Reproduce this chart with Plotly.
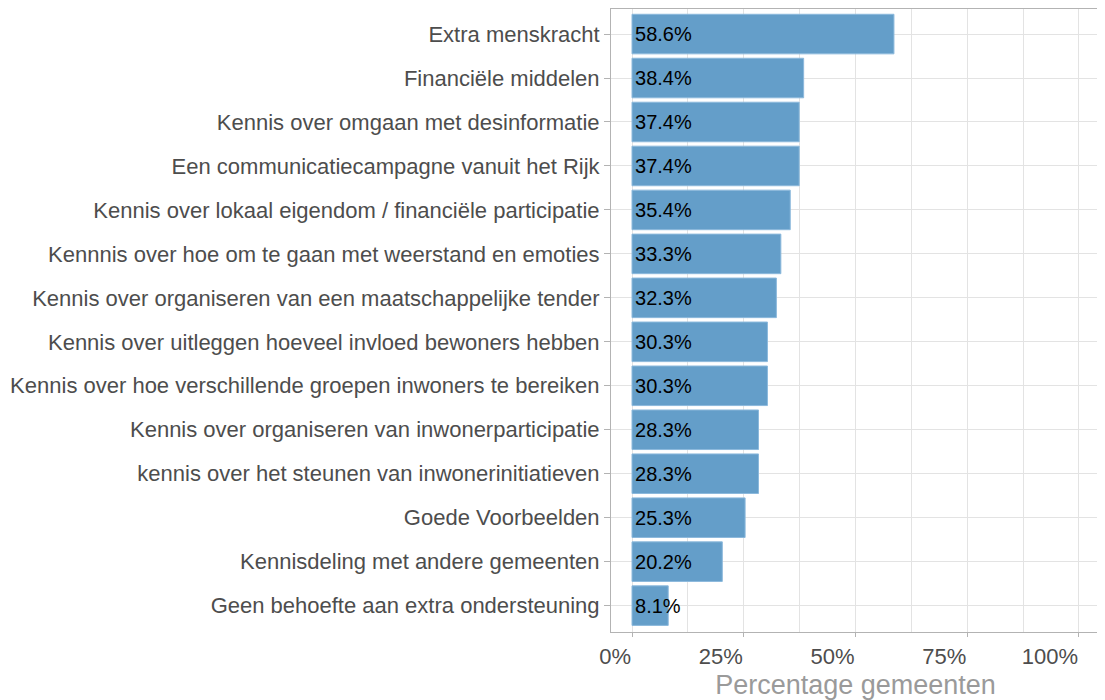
import plotly.graph_objects as go

categories = [
    "Extra menskracht",
    "Financiële middelen",
    "Kennis over omgaan met desinformatie",
    "Een communicatiecampagne vanuit het Rijk",
    "Kennis over lokaal eigendom / financiële participatie",
    "Kennnis over hoe om te gaan met weerstand en emoties",
    "Kennis over organiseren van een maatschappelijke tender",
    "Kennis over uitleggen hoeveel invloed bewoners hebben",
    "Kennis over hoe verschillende groepen inwoners te bereiken",
    "Kennis over organiseren van inwonerparticipatie",
    "kennis over het steunen van inwonerinitiatieven",
    "Goede Voorbeelden",
    "Kennisdeling met andere gemeenten",
    "Geen behoefte aan extra ondersteuning",
]
values = [58.6, 38.4, 37.4, 37.4, 35.4, 33.3, 32.3, 30.3, 30.3, 28.3, 28.3, 25.3, 20.2, 8.1]
labels = [f"{v:.1f}%" for v in values]
x_ticks = [0, 25, 50, 75, 100]
x_ticktext = ["0%", "25%", "50%", "75%", "100%"]

font = "Liberation Sans, Arial, sans-serif"

fig = go.Figure(go.Bar(
    y=categories,
    x=values,
    orientation="h",
    width=0.9,
    marker=dict(color="rgb(100,158,201)", line=dict(color="rgb(140,185,220)", width=1)),
    text=labels,
    textposition="inside",
    insidetextanchor="start",
    textangle=0,
    constraintext="none",
    textfont=dict(color="black", size=20, family=font),
    cliponaxis=False,
))

# the page body adds an 8px offset, so the figure is 8px smaller than the window
fig.update_layout(
    width=1097, height=692,
    margin=dict(l=603, r=5, t=1, b=68, autoexpand=False),
    paper_bgcolor="white", plot_bgcolor="white",
    showlegend=False,
    font=dict(family=font),
)
fig.update_xaxes(
    range=[-4.7, 104.7],
    tickvals=x_ticks, ticktext=x_ticktext,
    ticks="outside", ticklen=4, tickcolor="#b3b3b3",
    tickfont=dict(size=22, color="#4d4d4d", family=font),
    ticklabelposition="outside left",
    ticklabelstandoff=5,
    showgrid=True, gridcolor="#e3e3e3", gridwidth=1,
    minor=dict(tickvals=[12.5, 37.5, 62.5, 87.5], showgrid=True, gridcolor="#e3e3e3", gridwidth=1),
    zeroline=False,
    showline=True, linecolor="#b3b3b3", linewidth=1, mirror=True,
    automargin=False,
    title=dict(text="Percentage gemeenten", font=dict(size=27, color="#9a9a9a", family=font), standoff=6),
)
fig.update_yaxes(
    categoryorder="array", categoryarray=categories,
    autorange=False, range=[13.6, -0.57],
    ticks="outside", ticklen=6, tickcolor="#b3b3b3",
    tickfont=dict(size=22, color="#4d4d4d", family=font),
    showgrid=True, gridcolor="#e3e3e3", gridwidth=1,
    zeroline=False,
    automargin=False,
    showline=True, linecolor="#b3b3b3", linewidth=1, mirror=True,
)

fig.write_html("out.html")
